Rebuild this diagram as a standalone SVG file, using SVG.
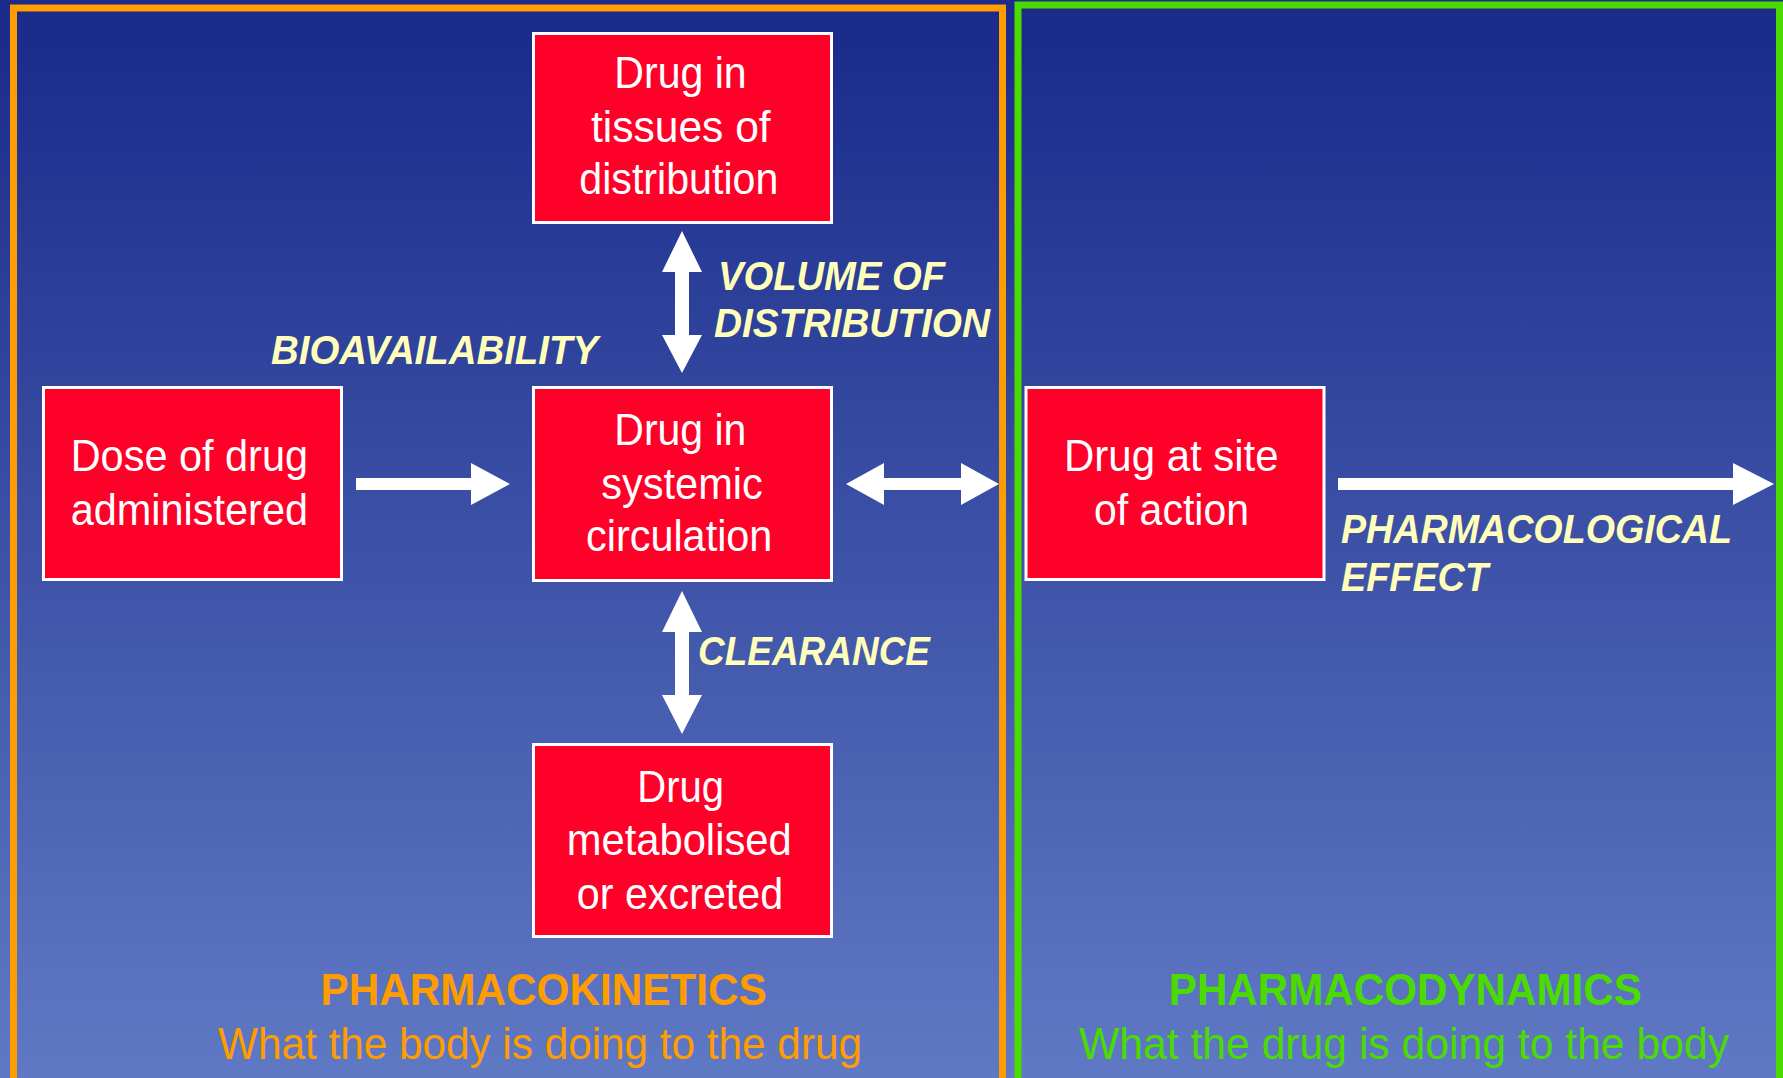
<svg xmlns="http://www.w3.org/2000/svg" width="1783" height="1078" viewBox="0 0 1783 1078">
  <defs>
    <linearGradient id="bg" x1="0" y1="0" x2="0" y2="1">
      <stop offset="0" stop-color="#1b2b8a"/>
      <stop offset="0.04" stop-color="#1b2c8b"/>
      <stop offset="1" stop-color="#6079c4"/>
    </linearGradient>
  </defs>
  <style>
    .box { fill: #ff0029; stroke: #ffffff; stroke-width: 3; }
    .bt { font-family: "Liberation Sans", Arial, sans-serif; font-size: 44px; fill: #ffffff; }
    .lbl { font-family: "Liberation Sans", Arial, sans-serif; font-size: 40px; font-weight: bold; font-style: italic; fill: #ffffbb; }
    .arrow { fill: #ffffff; }
    .ttl { font-family: "Liberation Sans", Arial, sans-serif; font-size: 44px; font-weight: bold; }
    .sub { font-family: "Liberation Sans", Arial, sans-serif; font-size: 44px; }
    .pk { fill: #ff9c00; }
    .pd { fill: #4cdb00; }
  </style>
  <rect x="0" y="0" width="1783" height="1078" fill="url(#bg)"/>

  <g id="frame-pk">
    <rect x="13.5" y="8" width="989" height="1100" fill="none" stroke="#ff9c00" stroke-width="7"/>
    <text class="ttl pk" x="320.6" y="1004.7" textLength="446" lengthAdjust="spacingAndGlyphs">PHARMACOKINETICS</text>
    <text class="sub pk" x="218" y="1058.7" textLength="644" lengthAdjust="spacingAndGlyphs">What the body is doing to the drug</text>
  </g>
  <g id="frame-pd">
    <rect x="1018" y="5" width="761.5" height="1100" fill="none" stroke="#4cdb00" stroke-width="7"/>
    <text class="ttl pd" x="1168.8" y="1004.7" textLength="473" lengthAdjust="spacingAndGlyphs">PHARMACODYNAMICS</text>
    <text class="sub pd" x="1079" y="1058.7" textLength="650" lengthAdjust="spacingAndGlyphs">What the drug is doing to the body</text>
  </g>

  <g id="connectors">
    <polygon class="arrow" points="356,478 471,478 471,463 510,484 471,505 471,490 356,490"/>
    <polygon class="arrow" points="682,231 702,272 689,272 689,335 702,335 682,373 662,335 675,335 675,272 662,272"/>
    <polygon class="arrow" points="682,591 702,632 689,632 689,695 702,695 682,734 662,695 675,695 675,632 662,632"/>
    <polygon class="arrow" points="846,484 884,463 884,478 961,478 961,463 999,484 961,505 961,490 884,490 884,505"/>
    <polygon class="arrow" points="1338,478 1733,478 1733,463 1774,484 1733,505 1733,490 1338,490"/>
    <text class="lbl" x="718" y="290" textLength="227" lengthAdjust="spacingAndGlyphs">VOLUME OF</text>
    <text class="lbl" x="714" y="336.7" textLength="276" lengthAdjust="spacingAndGlyphs">DISTRIBUTION</text>
    <text class="lbl" x="271" y="364.3" textLength="327" lengthAdjust="spacingAndGlyphs">BIOAVAILABILITY</text>
    <text class="lbl" x="698" y="665" textLength="232" lengthAdjust="spacingAndGlyphs">CLEARANCE</text>
    <text class="lbl" x="1341" y="543" textLength="391" lengthAdjust="spacingAndGlyphs">PHARMACOLOGICAL</text>
    <text class="lbl" x="1341" y="590.7" textLength="147" lengthAdjust="spacingAndGlyphs">EFFECT</text>
  </g>

  <g id="node-tissues">
    <rect class="box" x="533.5" y="33.5" width="298" height="189"/>
    <text class="bt" x="614.3" y="88.3" textLength="132.4" lengthAdjust="spacingAndGlyphs">Drug in</text>
    <text class="bt" x="591" y="141.7" textLength="179.7" lengthAdjust="spacingAndGlyphs">tissues of</text>
    <text class="bt" x="579.3" y="194" textLength="199" lengthAdjust="spacingAndGlyphs">distribution</text>
  </g>

  <g id="node-dose">
    <rect class="box" x="43.5" y="387.5" width="298" height="192"/>
    <text class="bt" x="70.7" y="471" textLength="237.3" lengthAdjust="spacingAndGlyphs">Dose of drug</text>
    <text class="bt" x="70.7" y="525" textLength="237.3" lengthAdjust="spacingAndGlyphs">administered</text>
  </g>

  <g id="node-systemic">
    <rect class="box" x="533.5" y="387.5" width="298" height="193"/>
    <text class="bt" x="614.3" y="445" textLength="132.1" lengthAdjust="spacingAndGlyphs">Drug in</text>
    <text class="bt" x="601.3" y="499" textLength="161.5" lengthAdjust="spacingAndGlyphs">systemic</text>
    <text class="bt" x="586" y="551" textLength="186.4" lengthAdjust="spacingAndGlyphs">circulation</text>
  </g>

  <g id="node-metabolised">
    <rect class="box" x="533.5" y="744.5" width="298" height="192"/>
    <text class="bt" x="637.3" y="802.3" textLength="86.7" lengthAdjust="spacingAndGlyphs">Drug</text>
    <text class="bt" x="566.7" y="855.3" textLength="225" lengthAdjust="spacingAndGlyphs">metabolised</text>
    <text class="bt" x="576.7" y="909.3" textLength="206.6" lengthAdjust="spacingAndGlyphs">or excreted</text>
  </g>

  <g id="node-site">
    <rect class="box" x="1026" y="387.5" width="298" height="192"/>
    <text class="bt" x="1064" y="471" textLength="214.6" lengthAdjust="spacingAndGlyphs">Drug at site</text>
    <text class="bt" x="1094" y="525" textLength="155" lengthAdjust="spacingAndGlyphs">of action</text>
  </g>
</svg>
